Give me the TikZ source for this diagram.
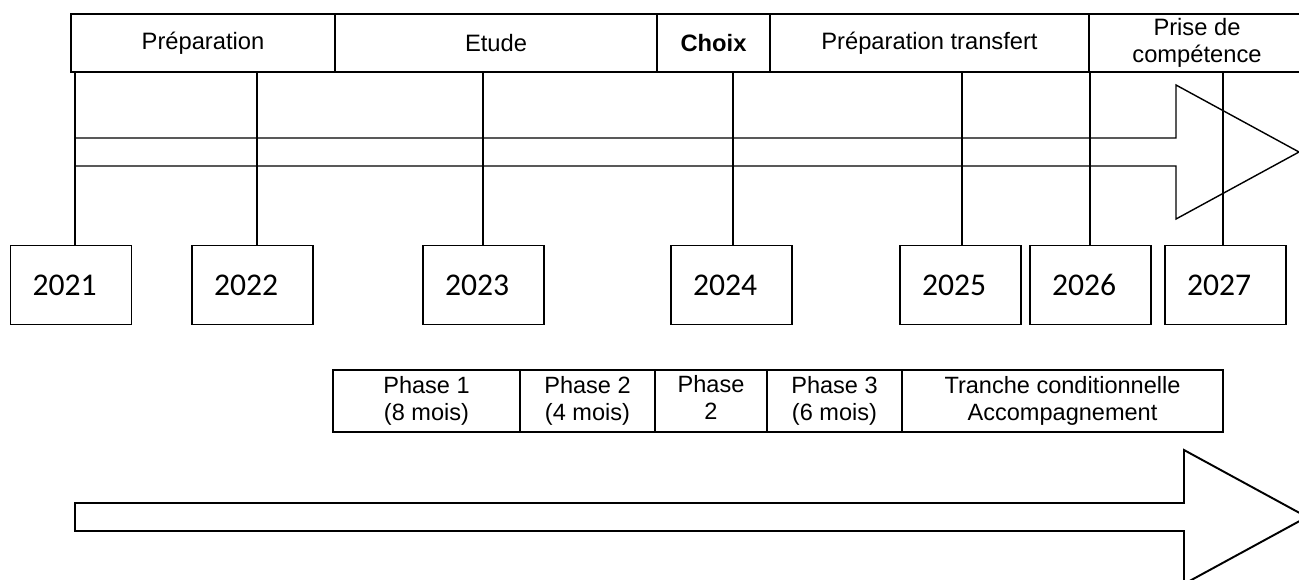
\documentclass[tikz,border=0pt]{standalone}
\usepackage{fontspec}
\setmainfont{Liberation Sans}
\newfontfamily\yearfont{Carlito}
\usepackage{tikz}
\tikzset{
  barcell/.style={draw, line width=1.1pt, minimum height=1.16cm, inner sep=0pt, align=center, font=\fontsize{13.5}{15.5}\selectfont},
  yearbox/.style={draw, line width=0.85pt, minimum height=1.58cm, text width=1.54cm, inner xsep=0.44cm, inner ysep=0pt, align=left, font=\yearfont\fontsize{18}{20}\selectfont},
  phasecell/.style={draw, line width=0.9pt, minimum height=1.24cm, inner sep=0pt, align=center, font=\fontsize{13.4}{15.5}\selectfont},
  tick/.style={line width=0.75pt},
  bigarrow/.style={draw, line join=miter},
}

\begin{document}
\begin{tikzpicture}[x=0.02cm, y=-0.02cm]
\useasboundingbox (0,0) rectangle (1299,579);
\node[barcell, minimum width=5.28cm] (prep) at (203,43) {Préparation};
\node[barcell, minimum width=6.44cm] (etude) at (496,43) {Etude};
\node[barcell, minimum width=2.26cm, font=\fontsize{13.5}{15.5}\selectfont\bfseries] (choix) at (713.5,43) {Choix};
\node[barcell, minimum width=6.4cm] (transf) at (929.5,43) {Préparation transfert};
\node[barcell, minimum width=4.32cm] (prise) at (1197,43) {Prise de\\compétence};
\draw[bigarrow, line width=0.8pt] (75,138) -- (1176,138) -- (1176,85) -- (1299,152) -- (1176,219) -- (1176,166) -- (75,166) -- cycle;
\node[yearbox] (y2021) at (71,285) {2021};
\node[yearbox] (y2022) at (252.5,285) {2022};
\node[yearbox] (y2023) at (483.5,285) {2023};
\node[yearbox] (y2024) at (731.5,285) {2024};
\node[yearbox] (y2025) at (960.5,285) {2025};
\node[yearbox] (y2026) at (1090.5,285) {2026};
\node[yearbox] (y2027) at (1225.5,285) {2027};
\coordinate (k2021) at (75,72);
\coordinate (k2022) at (257,72);
\coordinate (k2023) at (483,72);
\coordinate (k2024) at (733,72);
\coordinate (k2025) at (962,72);
\coordinate (k2026) at (1090,72);
\coordinate (k2027) at (1223,72);
\draw[tick] (k2021) -- (k2021 |- y2021.north);
\draw[tick] (k2022) -- (k2022 |- y2022.north);
\draw[tick] (k2023) -- (k2023 |- y2023.north);
\draw[tick] (k2024) -- (k2024 |- y2024.north);
\draw[tick] (k2025) -- (k2025 |- y2025.north);
\draw[tick] (k2026) -- (k2026 |- y2026.north);
\draw[tick] (k2027) -- (k2027 |- y2027.north);
\node[phasecell, minimum width=3.74cm] (ph1) at (426.5,401) {Phase 1\\(8 mois)};
\node[phasecell, minimum width=2.7cm] (ph2) at (587.5,401) {Phase 2\\(4 mois)};
\node[phasecell, minimum width=2.24cm, text depth=4pt] (ph2b) at (711,401) {Phase\\2};
\node[phasecell, minimum width=2.7cm] (ph3) at (834.5,401) {Phase 3\\(6 mois)};
\node[phasecell, minimum width=6.42cm] (tranche) at (1062.5,401) {Tranche conditionnelle\\Accompagnement};
\draw[bigarrow, line width=1.1pt] (75,503) -- (1184,503) -- (1184,450) -- (1307,517) -- (1184,584) -- (1184,531) -- (75,531) -- cycle;
\end{tikzpicture}
\end{document}
